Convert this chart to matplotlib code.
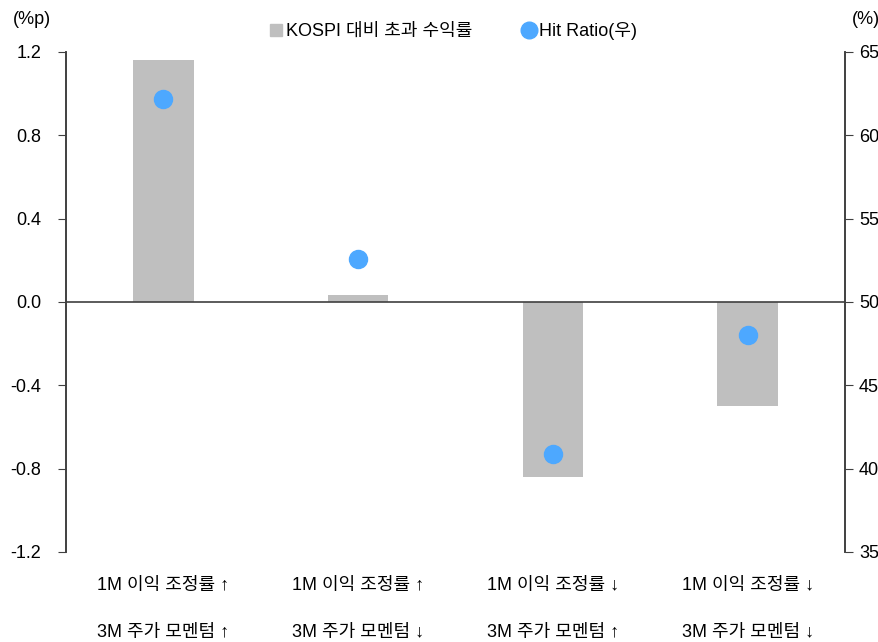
import matplotlib.pyplot as plt
from matplotlib.lines import Line2D

plt.rcParams['font.family'] = ['Liberation Sans', 'Noto Sans CJK KR', 'DejaVu Sans']

# data
categories = ['1M 이익 조정률 ↑\n3M 주가 모멘텀 ↑',
              '1M 이익 조정률 ↑\n3M 주가 모멘텀 ↓',
              '1M 이익 조정률 ↓\n3M 주가 모멘텀 ↑',
              '1M 이익 조정률 ↓\n3M 주가 모멘텀 ↓']
excess_return = [1.16, 0.035, -0.84, -0.50]
hit_ratio = [62.2, 52.6, 40.9, 48.0]
left_ticks = [-1.2, -0.8, -0.4, 0.0, 0.4, 0.8, 1.2]
right_ticks = [35, 40, 45, 50, 55, 60, 65]

bar_color = '#BFBFBF'
dot_color = '#4DA8FF'
axis_color = '#404040'

fig = plt.figure(figsize=(8.79, 6.42), dpi=100)
ax = fig.add_axes([66 / 879, 90 / 642, 779 / 879, 500 / 642])
ax2 = ax.twinx()

x = list(range(len(categories)))
ax.bar(x, excess_return, width=0.31, color=bar_color, zorder=2)
ax.axhline(0, color=axis_color, lw=1.2, zorder=3)
ax2.plot(x, hit_ratio, 'o', color=dot_color, markersize=13, zorder=4)

ax.set_xlim(-0.5, 3.5)
ax.set_ylim(-1.2, 1.2)
ax2.set_ylim(35, 65)
ax.set_yticks(left_ticks)
ax.set_yticklabels(['%.1f' % v for v in left_ticks])
ax2.set_yticks(right_ticks)

ax.set_xticks(x)
ax.set_xticklabels(categories, linespacing=3.3)
ax.tick_params(axis='x', length=0, pad=18, labelsize=13)
ax.tick_params(axis='y', direction='out', length=6, color=axis_color, labelsize=13, pad=12)
ax2.tick_params(axis='y', direction='out', length=6, color=axis_color, labelsize=13, pad=4)

for a in (ax, ax2):
    a.spines['top'].set_visible(False)
    a.spines['bottom'].set_visible(False)
    a.spines['left'].set_color(axis_color)
    a.spines['right'].set_color(axis_color)
    a.spines['left'].set_linewidth(1.2)
    a.spines['right'].set_linewidth(1.2)

fig.text(32 / 879, 1 - 20 / 642, '(%p)', ha='center', va='center', fontsize=13)
fig.text(866 / 879, 1 - 20 / 642, '(%)', ha='center', va='center', fontsize=13)

handles = [Line2D([], [], marker='s', linestyle='none', color=bar_color, markersize=8),
           Line2D([], [], marker='o', linestyle='none', color=dot_color, markersize=12)]
fig.legend(handles, ['KOSPI 대비 초과 수익률', 'Hit Ratio(우)'], loc='center',
           bbox_to_anchor=(452 / 879, 1 - 31 / 642), ncol=2, frameon=False,
           fontsize=13, handletextpad=0.05, columnspacing=2.6, handlelength=1.0)

fig.savefig('out.png', dpi=100)
